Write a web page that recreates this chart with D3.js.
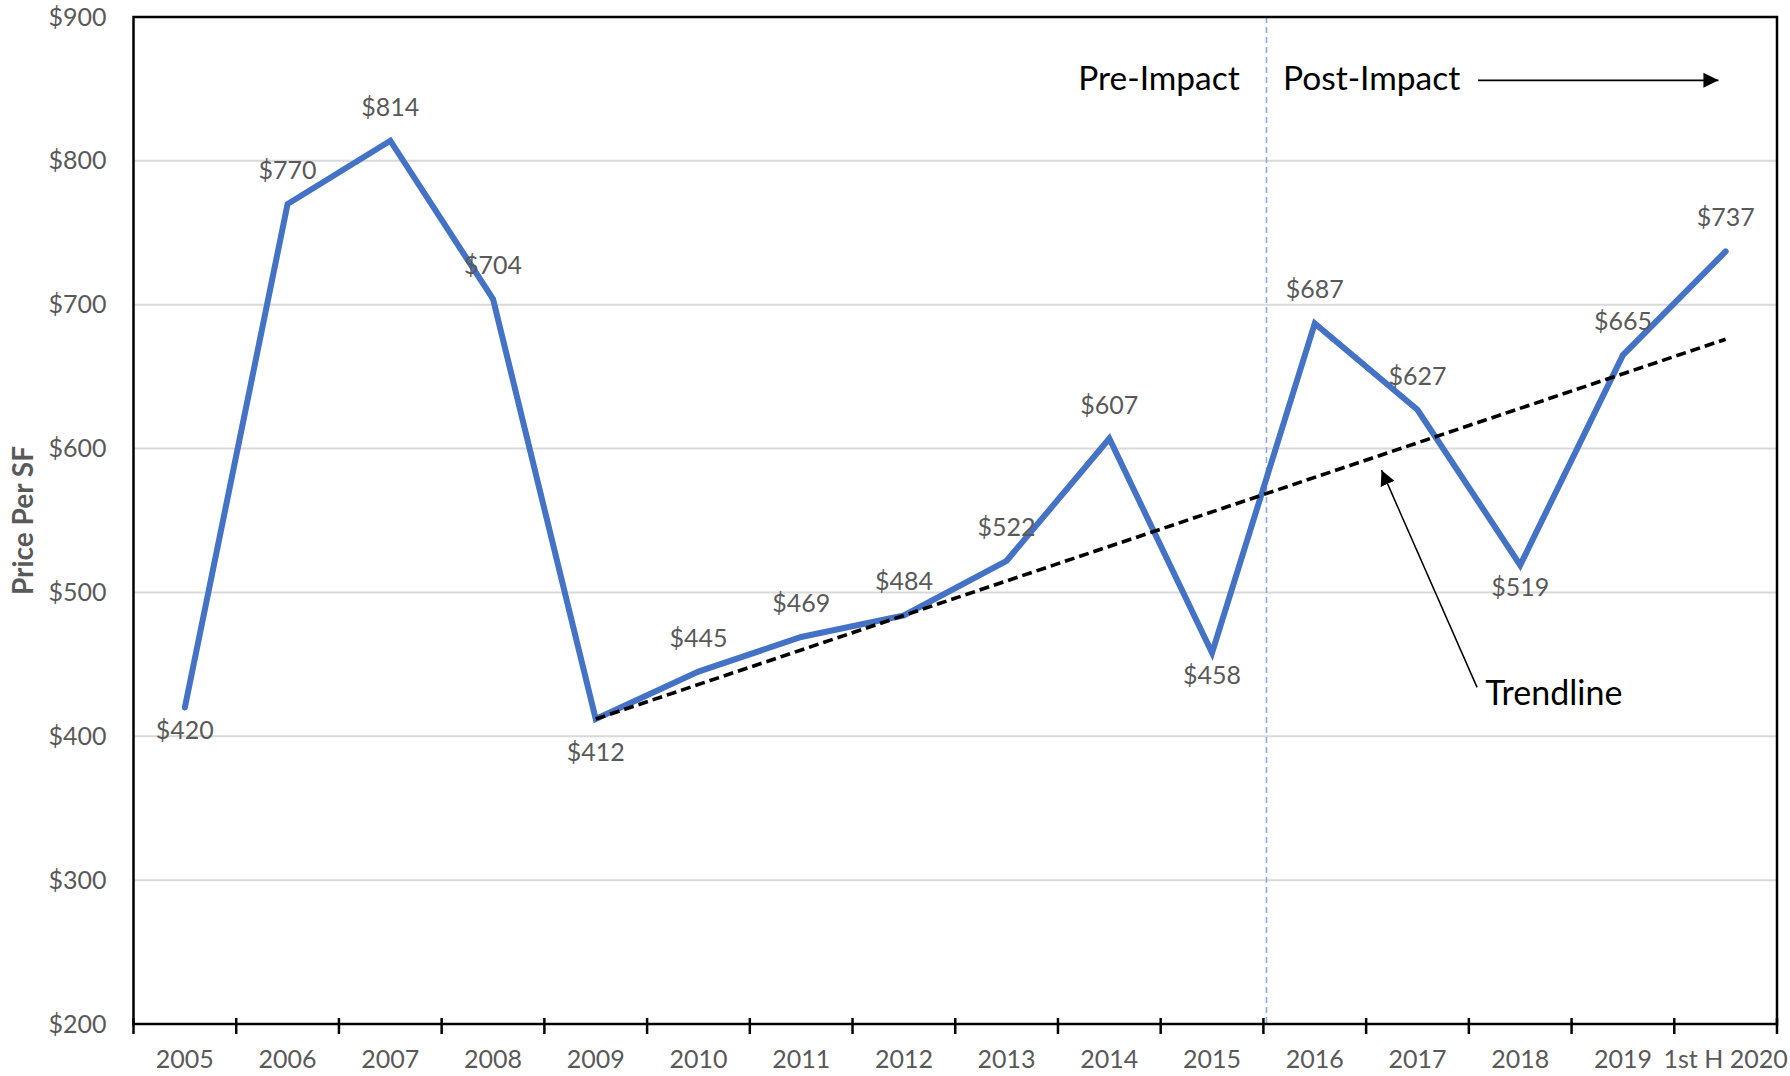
<!DOCTYPE html>
<html>
<head>
<meta charset="utf-8">
<script src="https://cdn.jsdelivr.net/npm/d3@7"></script>
<style>
  html, body { margin: 0; padding: 0; background: #fff; }
  svg { display: block; }
</style>
</head>
<body>
<svg id="chart" width="1790" height="1076"></svg>
<script>
// Average sale price per square foot, 2005 – first half of 2020
const categories = ["2005", "2006", "2007", "2008", "2009", "2010", "2011", "2012",
                    "2013", "2014", "2015", "2016", "2017", "2018", "2019", "1st H 2020"];
const pricePerSF = [420, 770, 814, 704, 412, 445, 469, 484, 522, 607, 458, 687, 627, 519, 665, 737];
// where each value label sits relative to its point
const labelSide = ["below", "above", "above", "above", "below", "above", "above", "above",
                   "above", "above", "below", "above", "above", "below", "above", "above"];
// trendline drawn from the 2009 low to the end of the series
const trendStart = { category: "2009", value: 412 };
const trendEnd = { category: "1st H 2020", value: 676 };
const yTicks = [200, 300, 400, 500, 600, 700, 800, 900];
const impactBoundary = 11; // between 2015 and 2016

const W = 1790, H = 1076;
const margin = { top: 17, right: 13, bottom: 52, left: 133.5 };
const svg = d3.select("#chart");
const FONT = "Lato, 'Open Sans', sans-serif";
const GRAY = "#595959";

const x = d3.scaleBand().domain(categories).range([margin.left, W - margin.right]).padding(0);
const y = d3.scaleLinear().domain([200, 900]).range([H - margin.bottom, margin.top]);
const xAt = i => x.range()[0] + i * x.step();
const xc = c => x(c) + x.bandwidth() / 2;

// gridlines
svg.append("g")
  .selectAll("line")
  .data(yTicks.filter(t => t > 200 && t < 900))
  .join("line")
  .attr("x1", margin.left).attr("x2", W - margin.right)
  .attr("y1", d => y(d)).attr("y2", d => y(d))
  .attr("stroke", "#d9d9d9").attr("stroke-width", 2);

// y axis labels
const yAxis = d3.axisLeft(y).tickValues(yTicks).tickFormat(d => "$" + d).tickSize(0).tickPadding(27);
const gy = svg.append("g").attr("transform", `translate(${margin.left},0)`).call(yAxis);
gy.select(".domain").remove();
gy.selectAll("text").attr("font-family", FONT).attr("font-size", 25).attr("fill", GRAY);

// x axis labels
const xAxis = d3.axisBottom(x).tickSize(0).tickPadding(0);
const gx = svg.append("g").attr("transform", `translate(0,${H - margin.bottom})`).call(xAxis);
gx.select(".domain").remove();
gx.selectAll("text")
  .attr("font-family", FONT).attr("font-size", 25).attr("fill", GRAY)
  .attr("dy", null).attr("y", 44);

// impact divider
svg.append("line")
  .attr("x1", xAt(impactBoundary + 0.03)).attr("x2", xAt(impactBoundary + 0.03))
  .attr("y1", margin.top).attr("y2", H - margin.bottom)
  .attr("stroke", "#8faadc").attr("stroke-width", 1.6).attr("stroke-dasharray", "6,4");

// plot border
svg.append("rect")
  .attr("x", margin.left).attr("y", margin.top)
  .attr("width", W - margin.left - margin.right).attr("height", H - margin.top - margin.bottom)
  .attr("fill", "none").attr("stroke", "#000").attr("stroke-width", 2.5);

// category boundary tick marks crossing the x axis
svg.append("g")
  .selectAll("line")
  .data(d3.range(categories.length + 1))
  .join("line")
  .attr("x1", i => xAt(i)).attr("x2", i => xAt(i))
  .attr("y1", H - margin.bottom - 6).attr("y2", H - margin.bottom + 10)
  .attr("stroke", "#000").attr("stroke-width", 2.5);

// price line
const line = d3.line().x((d, i) => xc(categories[i])).y(d => y(d));
svg.append("path")
  .datum(pricePerSF)
  .attr("d", line)
  .attr("fill", "none").attr("stroke", "#4472c4").attr("stroke-width", 6)
  .attr("stroke-linejoin", "miter").attr("stroke-linecap", "round");

// trendline
svg.append("line")
  .attr("x1", xc(trendStart.category)).attr("y1", y(trendStart.value))
  .attr("x2", xc(trendEnd.category)).attr("y2", y(trendEnd.value))
  .attr("stroke", "#000").attr("stroke-width", 3.6).attr("stroke-dasharray", "10,5");

// value labels
svg.append("g")
  .selectAll("text")
  .data(pricePerSF)
  .join("text")
  .attr("x", (d, i) => xc(categories[i]))
  .attr("y", (d, i) => {
    if (labelSide[i] === "above") return y(d) - 25;
    return y(d) + (categories[i] === trendStart.category ? 42 : 31);
  })
  .attr("text-anchor", "middle")
  .attr("font-family", FONT).attr("font-size", 25).attr("fill", GRAY)
  .text(d => "$" + d);

// y axis title
svg.append("text")
  .attr("transform", `translate(33,${(margin.top + H - margin.bottom) / 2}) rotate(-90)`)
  .attr("text-anchor", "middle")
  .attr("font-family", FONT).attr("font-size", 28).attr("font-weight", 700).attr("fill", GRAY)
  .text("Price Per SF");

// arrowhead marker
const defs = svg.append("defs");
defs.append("marker")
  .attr("id", "arrow").attr("viewBox", "0 0 10 10")
  .attr("refX", 10).attr("refY", 5)
  .attr("markerUnits", "userSpaceOnUse")
  .attr("markerWidth", 15).attr("markerHeight", 16)
  .attr("orient", "auto")
  .append("path").attr("d", "M0,0 L10,5 L0,10 Z").attr("fill", "#000");

// Pre / Post impact annotation
const annY = 849.5;
svg.append("text")
  .attr("x", xAt(10.77)).attr("y", y(annY))
  .attr("text-anchor", "end")
  .attr("font-family", FONT).attr("font-size", 33.5).attr("fill", "#000")
  .text("Pre-Impact");
svg.append("text")
  .attr("x", xAt(11.19)).attr("y", y(annY))
  .attr("text-anchor", "start")
  .attr("font-family", FONT).attr("font-size", 33.5).attr("fill", "#000")
  .text("Post-Impact");
svg.append("line")
  .attr("x1", xAt(13.09)).attr("x2", xAt(15.43))
  .attr("y1", y(856)).attr("y2", y(856))
  .attr("stroke", "#000").attr("stroke-width", 1.8)
  .attr("marker-end", "url(#arrow)");

// trendline callout
svg.append("line")
  .attr("x1", xAt(13.08)).attr("y1", y(434))
  .attr("x2", xAt(12.15)).attr("y2", y(585))
  .attr("stroke", "#000").attr("stroke-width", 1.5)
  .attr("marker-end", "url(#arrow)");
svg.append("text")
  .attr("x", xAt(13.16)).attr("y", y(421.8))
  .attr("font-family", FONT).attr("font-size", 34).attr("fill", "#000")
  .text("Trendline");
</script>
</body>
</html>
